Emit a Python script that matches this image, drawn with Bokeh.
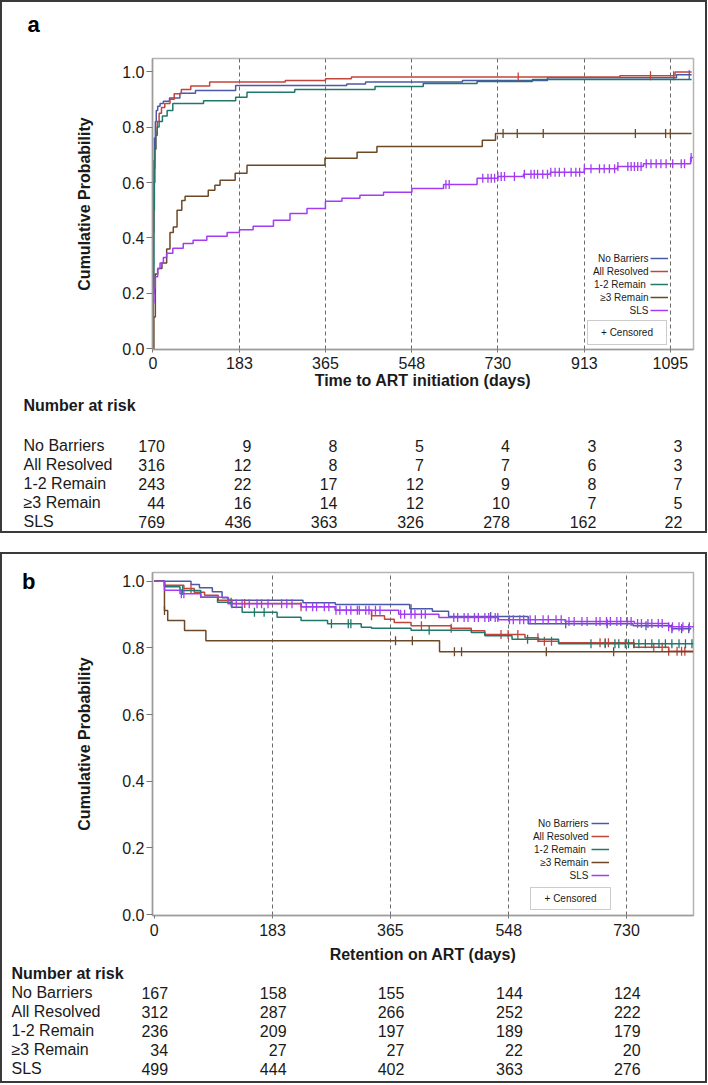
import numpy as np
from bokeh.plotting import figure
from bokeh.models import (Range1d, FixedTicker, Grid, Legend, LegendItem, Label, LinearAxis,
                          BoxAnnotation, PrintfTickFormatter, CustomJSTickFormatter, Spacer)
from bokeh.embed import file_html
from bokeh.resources import INLINE
from bokeh.core.properties import value

FONT = "Liberation Sans"
INK = "#1a1a1a"
BOX = "#3a3a3a"

groups = ["No Barriers", "All Resolved", "1-2 Remain", "≥3 Remain", "SLS"]
legend_labels = ["No Barriers", "All Resolved", "1-2  Remain", "≥3 Remain", "SLS"]
colors = ["#4b5aa8", "#c2453b", "#1f786a", "#6b4826", "#a23cf2"]

# ---------------- Panel a: time to ART initiation (cumulative probability)
a_ticks = [0, 183, 365, 548, 730, 913, 1095]
a_nb_t = [0, 0, 1, 2, 3, 5, 7, 10, 15, 22, 35, 57, 90, 175, 410, 450, 655, 835, 1108, 1140]
a_nb_p = [0.0, 0.30, 0.55, 0.68, 0.76, 0.82, 0.86, 0.875, 0.885, 0.893, 0.905, 0.922, 0.932, 0.950, 0.955, 0.962, 0.968, 0.978, 0.988, 0.988]
a_ar_t = [0, 0, 1, 2, 4, 6, 9, 13, 18, 25, 36, 45, 60, 80, 120, 280, 365, 420, 988, 1105, 1140]
a_ar_p = [0.0, 0.25, 0.42, 0.60, 0.72, 0.78, 0.82, 0.85, 0.87, 0.885, 0.90, 0.92, 0.935, 0.948, 0.962, 0.968, 0.974, 0.980, 0.985, 0.998, 0.998]
a_12_t = [0, 0, 2, 3, 4, 6, 9, 13, 20, 30, 42, 107, 175, 199, 300, 470, 572, 686, 803, 1140]
a_12_p = [0.0, 0.20, 0.50, 0.65, 0.72, 0.77, 0.80, 0.82, 0.84, 0.86, 0.885, 0.895, 0.907, 0.925, 0.935, 0.946, 0.957, 0.964, 0.971, 0.971]
a_3_t = [0, 2, 5, 10, 19, 29, 36, 43, 51, 61, 68, 117, 131, 142, 174, 199, 364, 432, 474, 697, 725, 1140]
a_3_p = [0.0, 0.115, 0.27, 0.29, 0.31, 0.36, 0.42, 0.44, 0.50, 0.535, 0.55, 0.572, 0.59, 0.608, 0.633, 0.662, 0.687, 0.709, 0.73, 0.752, 0.777, 0.777]
a_sls_t = [0, 0, 2, 5, 10, 15, 22, 29, 42, 64, 85, 114, 157, 183, 212, 255, 290, 326, 365, 400, 438, 488, 548, 615, 686, 730, 784, 841, 913, 983, 1038, 1138, 1143]
a_sls_p = [0.0, 0.165, 0.22, 0.26, 0.29, 0.31, 0.33, 0.345, 0.363, 0.38, 0.392, 0.406, 0.42, 0.43, 0.442, 0.464, 0.488, 0.506, 0.532, 0.543, 0.554, 0.565, 0.578, 0.593, 0.615, 0.622, 0.630, 0.637, 0.65, 0.658, 0.668, 0.69, 0.69]

a_nb_c = [1135]
a_ar_c = [773, 1053, 1102]
a_12_c = []
a_3_c = [741, 771, 826, 1021, 1085, 1095]
a_sls_c = [620, 627, 698, 709, 716, 723, 730, 737, 744, 765, 786, 800, 807, 814, 825, 835,
           842, 851, 860, 871, 885, 895, 903, 913, 927, 945, 955, 966, 977, 984, 1005, 1012,
           1019, 1026, 1033, 1044, 1054, 1065, 1075, 1086, 1100, 1118, 1125, 1139]

a_risk_nb = [170, 9, 8, 5, 4, 3, 3]
a_risk_ar = [316, 12, 8, 7, 7, 6, 3]
a_risk_12 = [243, 22, 17, 12, 9, 8, 7]
a_risk_3 = [44, 16, 14, 12, 10, 7, 5]
a_risk_sls = [769, 436, 363, 326, 278, 162, 22]

# ---------------- Panel b: retention on ART
b_ticks = [0, 183, 365, 548, 730]
b_nb_t = [0, 57, 70, 90, 105, 115, 230, 280, 395, 430, 455, 578, 740, 800, 830]
b_nb_p = [1.0, 0.99, 0.98, 0.968, 0.95, 0.943, 0.935, 0.93, 0.917, 0.91, 0.894, 0.872, 0.866, 0.857, 0.857]
b_ar_t = [0, 16, 46, 62, 78, 99, 120, 227, 280, 336, 356, 371, 397, 459, 490, 511, 573, 594, 625, 742, 795, 833]
b_ar_p = [1.0, 0.988, 0.978, 0.967, 0.958, 0.943, 0.933, 0.923, 0.913, 0.896, 0.886, 0.876, 0.866, 0.859, 0.851, 0.84, 0.83, 0.82, 0.815, 0.802, 0.79, 0.79]
b_12_t = [0, 16, 40, 72, 98, 120, 136, 190, 227, 268, 320, 336, 397, 490, 511, 553, 625, 833]
b_12_p = [1.0, 0.983, 0.972, 0.952, 0.937, 0.922, 0.907, 0.892, 0.882, 0.872, 0.862, 0.859, 0.853, 0.846, 0.836, 0.826, 0.812, 0.812]
b_3_t = [0, 16, 21, 47, 80, 441, 833]
b_3_p = [1.0, 0.912, 0.882, 0.852, 0.821, 0.788, 0.788]
b_sls_t = [0, 16, 40, 72, 114, 227, 280, 378, 440, 532, 635, 742, 795, 836]
b_sls_p = [1.0, 0.973, 0.962, 0.952, 0.932, 0.923, 0.913, 0.901, 0.891, 0.884, 0.879, 0.873, 0.863, 0.858]

b_nb_c = [397, 520, 636, 700, 760, 800, 815, 826]
b_ar_c = [57, 140, 227, 336, 413, 459, 536, 547, 562, 593, 603, 614, 689, 697, 702, 772, 785, 795, 808, 815, 820]
b_12_c = [44, 119, 155, 170, 274, 300, 304, 425, 577, 675, 697, 712, 718, 728, 733, 741, 749, 759, 769, 780, 790, 800, 811, 821, 831]
b_3_c = [16, 373, 399, 464, 475, 606, 710]
b_sls_c = [42, 46, 120, 127, 136, 147, 159, 166, 176, 197, 205, 213, 235, 245, 251, 263, 270, 281, 287, 297,
           304, 314, 317, 327, 332, 342, 349, 381, 387, 397, 403, 413, 419, 463, 469, 479, 485, 495, 501, 511,
           517, 527, 531, 549, 555, 565, 571, 581, 589, 601, 609, 621, 629, 641, 649, 661, 669, 683, 689, 699,
           705, 715, 721, 731, 737, 747, 753, 763, 769, 779, 785, 795, 801, 811, 817, 827, 834]

b_risk_nb = [167, 158, 155, 144, 124]
b_risk_ar = [312, 287, 266, 252, 222]
b_risk_12 = [236, 209, 197, 189, 179]
b_risk_3 = [34, 27, 27, 22, 20]
b_risk_sls = [499, 444, 402, 363, 276]

W = 707
FL, FR = 152, 14          # plot frame borders (left / right)
FW = W - FL - FR

L, R, T, B = (f"inset 2px 0 0 0 {BOX}", f"inset -2px 0 0 0 {BOX}",
              f"inset 0 2px 0 0 {BOX}", f"inset 0 -2px 0 0 {BOX}")


def shadow(*parts):
    return {"box-shadow": ", ".join(parts)}


def step_value(t, p, c):
    t = np.asarray(t, dtype=float)
    p = np.asarray(p, dtype=float)
    idx = np.searchsorted(t, np.asarray(c, dtype=float), side="right") - 1
    return p[idx]


def blank(fig):
    fig.outline_line_color = None
    fig.background_fill_color = None
    fig.border_fill_color = None
    for g in fig.grid:
        g.visible = False


def make_plot(curves, censors, ticks, xr, yr, height, top, bottom,
              tick_standoff, label_standoff, xtitle,
              leg_x, leg_y, text_x, text_y, cbox, ctext, styles, tag=None):
    p = figure(width=W, height=height, x_range=Range1d(*xr), y_range=Range1d(*yr),
               output_backend="svg", toolbar_location=None,
               min_border_left=FL, min_border_right=FR,
               min_border_top=top, min_border_bottom=bottom, styles=styles)
    p.background_fill_color = "white"
    p.border_fill_color = None
    p.outline_line_color = "#b4b4b4"
    p.outline_line_width = 1.5
    p.xgrid.visible = False
    p.ygrid.visible = False
    p.add_layout(Grid(dimension=0, ticker=FixedTicker(ticks=ticks[1:]),
                      grid_line_color="#6a6a6a", grid_line_dash="4 3", grid_line_width=1))

    xa = p.xaxis[0]
    xa.ticker = FixedTicker(ticks=ticks)
    xa.axis_label = xtitle
    ya = p.yaxis[0]
    ya.ticker = FixedTicker(ticks=[0.0, 0.2, 0.4, 0.6, 0.8, 1.0])
    ya.formatter = PrintfTickFormatter(format="%.1f")
    ya.axis_label = "Cumulative Probability"
    for ax in (xa, ya):
        ax.axis_label_text_font = FONT
        ax.axis_label_text_font_style = "bold"
        ax.axis_label_text_font_size = "16px"
        ax.axis_label_text_color = INK
        ax.major_label_text_font = FONT
        ax.major_label_text_font_size = "16px"
        ax.major_label_text_color = INK
        ax.major_tick_in = 0
        ax.minor_tick_out = 0
        ax.minor_tick_in = 0
        ax.major_tick_line_color = "#777777"
        ax.axis_line_color = "#9c9c9c"
        ax.axis_line_width = 1.5
    xa.major_tick_out = 3
    xa.major_label_standoff = tick_standoff
    xa.axis_label_standoff = label_standoff
    ya.major_tick_out = 6
    ya.major_label_standoff = 2
    ya.axis_label_standoff = 26

    if tag is not None:
        tag_ax = LinearAxis(ticker=FixedTicker(ticks=[1.0]),
                            formatter=CustomJSTickFormatter(code="return '%s'" % tag),
                            axis_line_color=None, major_tick_line_color=None,
                            minor_tick_line_color=None, major_tick_out=0, major_tick_in=0,
                            minor_tick_out=0, minor_tick_in=0,
                            major_label_text_font=FONT, major_label_text_font_size="22px",
                            major_label_text_font_style="bold", major_label_text_color="#000000",
                            major_label_standoff=38)
        p.add_layout(tag_ax, "left")

    rends = []
    for (t, pv), c, col in zip(curves, censors, colors):
        r = p.step(x=t, y=pv, mode="after", line_color=col, line_width=1.5)
        rends.append(r)
        if len(c):
            p.scatter(x=c, y=step_value(t, pv, c), marker="dash", angle=np.pi / 2,
                      size=9, line_color=col, line_width=1.3)

    leg = Legend(items=[LegendItem(label=" ", renderers=[r]) for r in rends],
                 location=(leg_x, leg_y), orientation="vertical",
                 padding=0, margin=0, spacing=1, glyph_height=12, glyph_width=18,
                 label_height=12, label_width=0, label_standoff=0,
                 label_text_font_size="10px", border_line_color=None,
                 background_fill_alpha=0)
    p.add_layout(leg)
    for i, lab in enumerate(legend_labels):
        p.add_layout(Label(x=text_x, y=text_y - 13 * i, x_units="screen", y_units="screen",
                           text=lab, text_font=FONT, text_font_size="10px", text_color=INK,
                           text_align="right", text_baseline="middle"))
    l, r_, b, t_ = cbox
    p.add_layout(BoxAnnotation(left=l, right=r_, bottom=b, top=t_,
                               left_units="screen", right_units="screen",
                               bottom_units="screen", top_units="screen",
                               fill_color=None, line_color="#555555", line_width=1))
    p.add_layout(Label(x=ctext[0], y=ctext[1], x_units="screen", y_units="screen",
                       text="+ Censored", text_font=FONT, text_font_size="10px",
                       text_color=INK, text_align="center", text_baseline="middle"))
    return p


def make_table(ticks, risks, xr_plot, height, row0_top, pitch, label_off, num_off, nar_top, styles):
    k = (xr_plot[1] - xr_plot[0]) / FW
    xr = (xr_plot[0] - FL * k, xr_plot[1] + FR * k)
    end = row0_top / pitch
    yr = (end - height / pitch, end)
    t = figure(width=W, height=height, x_range=Range1d(*xr), y_range=Range1d(*yr),
               output_backend="svg", toolbar_location=None, min_border=0,
               x_axis_type=None, y_axis_type=None, styles=styles)
    blank(t)
    t.text(x=[xr[0]], y=[end - nar_top / pitch], text=["Number at risk"], x_offset=label_off,
           text_font=value(FONT), text_font_size="16px", text_font_style="bold",
           text_color=INK, text_align="left", text_baseline="middle")
    for i, (name, counts) in enumerate(zip(groups, risks)):
        t.text(x=[xr[0]], y=[-i], text=[name], x_offset=label_off,
               text_font=value(FONT), text_font_size="16px", text_color=INK,
               text_align="left", text_baseline="middle")
        t.text(x=ticks, y=[-i] * len(ticks), text=[str(v) for v in counts], x_offset=num_off,
               text_font=value(FONT), text_font_size="16px", text_color=INK,
               text_align="right", text_baseline="middle")
    return t


# ---- Panel a
top_a = figure(width=W, height=56, x_range=Range1d(0, W), y_range=Range1d(56, 0),
               output_backend="svg", toolbar_location=None, min_border=0,
               x_axis_type=None, y_axis_type=None, styles=shadow(L, R, T))
blank(top_a)
top_a.text(x=[33], y=[24], text=["a"], text_font=value(FONT), text_font_size="22px",
           text_font_style="bold", text_color="#000000", text_align="center", text_baseline="middle")

xr_a = (-1, 1144)
fa = make_plot(
    curves=[(a_nb_t, a_nb_p), (a_ar_t, a_ar_p), (a_12_t, a_12_p), (a_3_t, a_3_p), (a_sls_t, a_sls_p)],
    censors=[a_nb_c, a_ar_c, a_12_c, a_3_c, a_sls_c],
    ticks=a_ticks, xr=xr_a, yr=(-0.002, 1.047), height=339, top=2, bottom=46,
    tick_standoff=4, label_standoff=0, xtitle="Time to ART initiation (days)",
    leg_x=498, leg_y=33, text_x=496, text_y=91,
    cbox=(435, 514, 5, 29), ctext=(474.5, 17), styles=shadow(L, R))
ta = make_table(a_ticks, [a_risk_nb, a_risk_ar, a_risk_12, a_risk_3, a_risk_sls],
                xr_a, height=138, row0_top=50, pitch=19, label_off=23, num_off=12, nar_top=10,
                styles=shadow(L, R, B))

gap = Spacer(width=W, height=19)

# ---- Panel b
xr_b = (-2.5, 833.4)
fb = make_plot(
    curves=[(b_nb_t, b_nb_p), (b_ar_t, b_ar_p), (b_12_t, b_12_p), (b_3_t, b_3_p), (b_sls_t, b_sls_p)],
    censors=[b_nb_c, b_ar_c, b_12_c, b_3_c, b_sls_c],
    ticks=b_ticks, xr=xr_b, yr=(-0.003, 1.026), height=414, top=20, bottom=51,
    tick_standoff=5, label_standoff=7, xtitle="Retention on ART (days)",
    leg_x=439, leg_y=34, text_x=436, text_y=92,
    cbox=(378, 458, 6, 28), ctext=(418, 17), styles=shadow(L, R, T), tag="b")
tb = make_table(b_ticks, [b_risk_nb, b_risk_ar, b_risk_12, b_risk_3, b_risk_sls],
                xr_b, height=117, row0_top=26, pitch=19, label_off=11, num_off=14, nar_top=7,
                styles=shadow(L, R, B))

open("out.html", "w").write(file_html([top_a, fa, ta, gap, fb, tb], INLINE))
